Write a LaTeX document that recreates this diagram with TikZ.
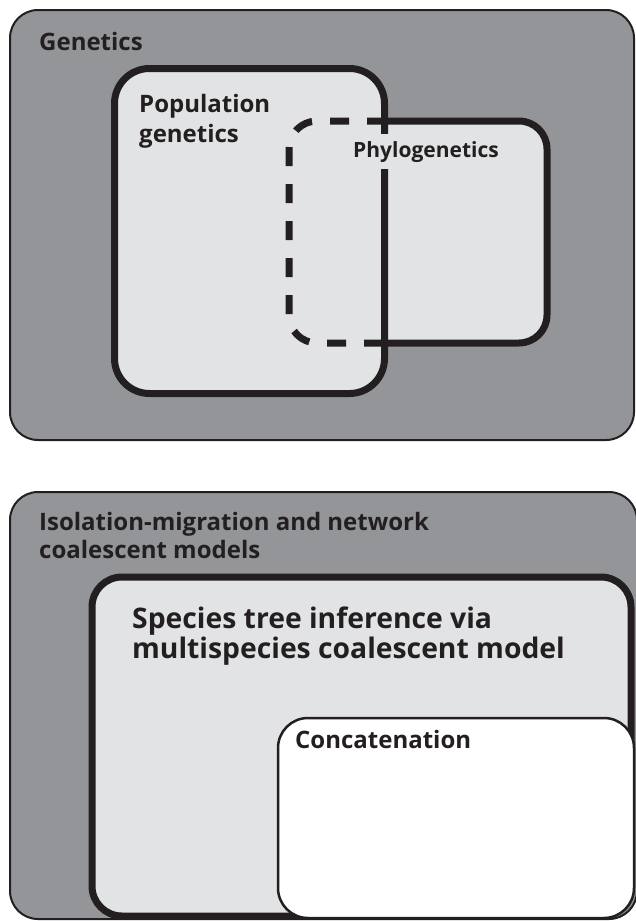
\documentclass[tikz,border=0pt]{standalone}
\usepackage{fontspec}
\setmainfont{Open Sans}
\definecolor{ink}{HTML}{231F20}
\definecolor{midgray}{HTML}{939598}
\definecolor{lightgray0}{HTML}{E2E3E5}
\begin{document}
\begin{tikzpicture}[x=1pt,y=-1pt,
  lbl/.style={font=\bfseries\fontsize{#1}{30}\selectfont, text=ink, inner sep=0pt, align=left, anchor=base west},
  panel/.style={draw=ink, line width=2pt, fill=midgray, rounded corners=28pt},
  thickbox/.style={draw=ink, line width=7pt, rounded corners=#1},
  thinbox/.style={draw=ink, line width=2.5pt, fill=white, rounded corners=30pt}]
\useasboundingbox (0,0) rectangle (635,921);
\fill[white] (0,0) rectangle (635,921);
% ---- top panel
\draw[panel] (10,10) rectangle (634,440);
\fill[lightgray0, rounded corners=35pt] (114.5,68.5) rectangle (384.5,393.5);
\fill[lightgray0, rounded corners=28pt] (289,121) rectangle (547,343);
\draw[thickbox=35pt] (114.5,68.5) rectangle (384.5,393.5);
\draw[thickbox=28pt] (367,121) -- (547,121) -- (547,343) -- (367,343);
\draw[thickbox=28pt, dash pattern=on 19pt off 18pt, dash phase=19pt] (367,121) -- (289,121) -- (289,343) -- (367,343);
\node[lbl=24] (gen) at (39,50) {Genetics};
\node[lbl=24] (pop) at (139,142) {Population\\genetics};
\node[lbl=21, fill=lightgray0, inner xsep=2pt, inner ysep=7pt] (phy) at (351,157) {Phylogenetics};
% ---- bottom panel
\draw[panel] (10,492) rectangle (637,919);
\fill[lightgray0, rounded corners=30pt] (92,577) rectangle (631,916);
\draw[thickbox=30pt] (92,577) rectangle (631,916);
\draw[thinbox] (278,718) rectangle (634,918);
\node[lbl=24, font=\bfseries\fontsize{24}{28}\selectfont] (iso) at (39,558) {Isolation-migration and network\\coalescent models};
\node[lbl=28.3] (spe) at (132,658) {Species tree inference via\\multispecies coalescent model};
\node[lbl=24] (con) at (295,748) {Concatenation};
\end{tikzpicture}
\end{document}
